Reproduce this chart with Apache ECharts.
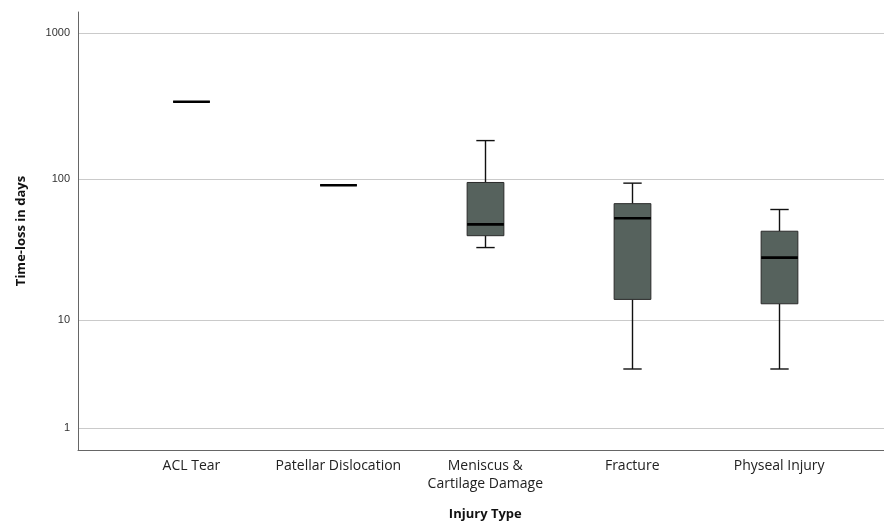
<!DOCTYPE html>
<html>
<head>
<meta charset="utf-8">
<script src="https://cdn.jsdelivr.net/npm/echarts@6/dist/echarts.min.js"></script>
<style>html,body{margin:0;padding:0;background:#fff}#c{width:884px;height:526px}</style>
</head>
<body>
<div id="c"></div>
<script>
const categories = ['ACL Tear', 'Patellar Dislocation', 'Meniscus &\nCartilage Damage', 'Fracture', 'Physeal Injury'];
const minVals    = [339, 90, 33, 4, 4];
const q1Vals     = [339, 90, 40, 14, 13];
const medianVals = [339, 90, 48, 53, 28];
const q3Vals     = [339, 90, 94, 67, 43];
const maxVals    = [339, 90, 183, 93, 61];
const yTickLabels = [1, 10, 100, 1000];

// SPSS "safe log" scale
const safeLog = v => Math.log10(v + 1);
const yMin = 0.1505, yMax = 3.1464;
const tickPos = yTickLabels.map(safeLog);

const boxData = categories.map((c, i) => [i, safeLog(minVals[i]), safeLog(q1Vals[i]), safeLog(medianVals[i]), safeLog(q3Vals[i]), safeLog(maxVals[i])]);

function renderBox(params, api) {
  const idx = api.value(0);
  const pMin = api.coord([idx, api.value(1)]);
  const yQ1 = api.coord([idx, api.value(2)])[1];
  const yMed = api.coord([idx, api.value(3)])[1];
  const yQ3 = api.coord([idx, api.value(4)])[1];
  const yMx = api.coord([idx, api.value(5)])[1];
  const x = Math.round(pMin[0]) + 0.5;
  const yMn = pMin[1];
  const band = api.size([1, 0])[0];
  const bw = band * 0.25;
  const cap = bw * 0.5;
  const wStyle = { stroke: '#111', lineWidth: 1.4 };
  return {
    type: 'group',
    children: [
      { type: 'line', shape: { x1: x, y1: yQ3, x2: x, y2: yMx }, style: wStyle },
      { type: 'line', shape: { x1: x - cap / 2, y1: yMx, x2: x + cap / 2, y2: yMx }, style: wStyle },
      { type: 'line', shape: { x1: x, y1: yQ1, x2: x, y2: yMn }, style: wStyle },
      { type: 'line', shape: { x1: x - cap / 2, y1: yMn, x2: x + cap / 2, y2: yMn }, style: wStyle },
      { type: 'rect', shape: { x: x - bw / 2, y: yQ3, width: bw, height: yQ1 - yQ3 },
        style: { fill: '#56625d', stroke: '#2a2a2a', lineWidth: 1 } },
      { type: 'line', shape: { x1: x - bw / 2, y1: yMed, x2: x + bw / 2, y2: yMed },
        style: { stroke: '#000', lineWidth: 2.6 } }
    ]
  };
}

const chart = echarts.init(document.getElementById('c'), null, { renderer: 'canvas' });
chart.setOption({
  backgroundColor: '#fff',
  animation: false,
  grid: [
    { left: 78, right: 0, top: 12, bottom: 76 },
    { left: 118, right: 31.4, top: 12, bottom: 76 }
  ],
  xAxis: [
    { type: 'value', gridIndex: 0, min: 0, max: 1,
      axisLine: { show: true, lineStyle: { color: '#666', width: 1 } },
      axisTick: { show: false }, axisLabel: { show: false }, splitLine: { show: false } },
    { type: 'category', gridIndex: 1, data: categories,
      axisLine: { show: false }, axisTick: { show: false },
      axisLabel: { color: '#222', fontSize: 14, fontFamily: 'Open Sans', lineHeight: 18, margin: 8, interval: 0 },
      name: 'Injury Type', nameLocation: 'middle', nameGap: 59,
      nameTextStyle: { color: '#111', fontSize: 13, fontWeight: 'bold', fontFamily: 'Open Sans' } }
  ],
  yAxis: [
    { type: 'value', gridIndex: 0, min: yMin, max: yMax,
      axisLine: { show: true, lineStyle: { color: '#666', width: 1 } },
      axisTick: { show: false, customValues: tickPos },
      axisLabel: { customValues: tickPos, color: '#333', fontSize: 11, fontFamily: 'Liberation Sans', margin: 8,
        formatter: v => { const k = tickPos.findIndex(t => Math.abs(t - v) < 1e-6); return k >= 0 ? String(yTickLabels[k]) : ''; } },
      splitLine: { show: true, lineStyle: { color: '#cacaca', width: 1 } },
      name: 'Time-loss in days', nameLocation: 'middle', nameGap: 50,
      nameTextStyle: { color: '#111', fontSize: 13, fontWeight: 'bold', fontFamily: 'Open Sans' } },
    { type: 'value', gridIndex: 1, min: yMin, max: yMax, show: false, splitLine: { show: false } }
  ],
  series: [{
    type: 'custom',
    xAxisIndex: 1, yAxisIndex: 1,
    renderItem: renderBox,
    encode: { x: 0, y: [1, 2, 3, 4, 5] },
    data: boxData
  }]
});
</script>
</body>
</html>
